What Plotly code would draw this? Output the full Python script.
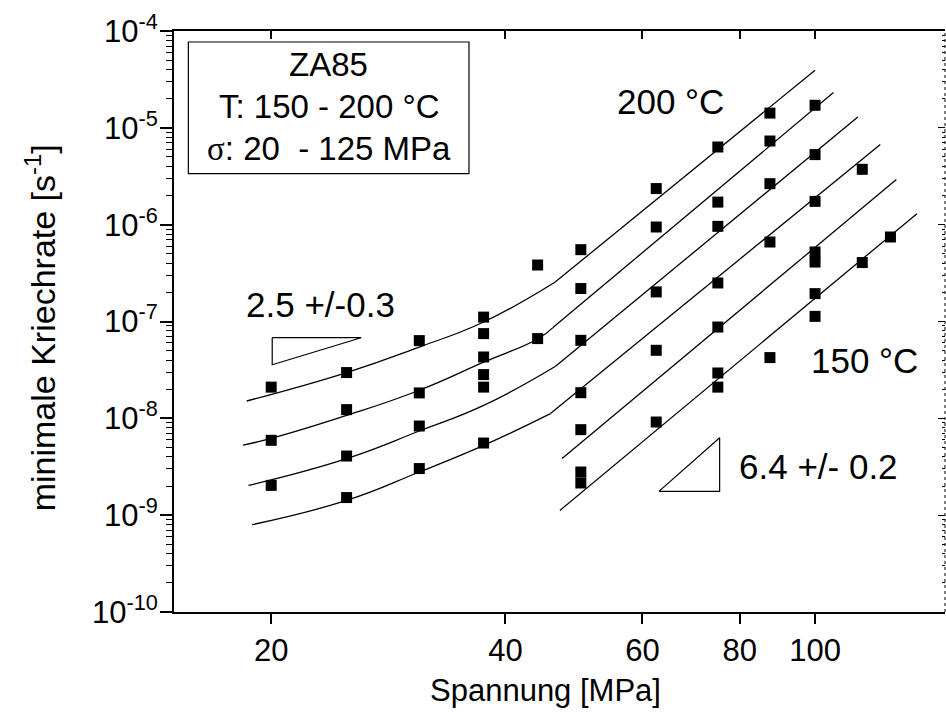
import numpy as np
import plotly.graph_objects as go

# Minimum creep rates (1/s) measured at each applied stress (MPa)
stress_levels = [20, 25, 31, 37.5, 44, 50, 62.5, 75, 87.5, 100, 115, 125]
creep_rates = [
    [2.10e-8, 5.93e-9, 2.03e-9],
    [2.97e-8, 1.23e-8, 4.08e-9, 1.52e-9],
    [6.35e-8, 1.83e-8, 8.33e-9, 3.03e-9],
    [1.11e-7, 7.50e-8, 4.30e-8, 2.83e-8, 2.10e-8, 5.56e-9],
    [3.83e-7, 6.66e-8],
    [5.52e-7, 2.19e-7, 6.39e-8, 1.84e-8, 7.64e-9, 2.79e-9, 2.15e-9],
    [2.36e-6, 9.46e-7, 2.02e-7, 5.04e-8, 9.16e-9],
    [6.34e-6, 1.71e-6, 9.61e-7, 2.50e-7, 8.77e-8, 2.94e-8, 2.10e-8],
    [1.42e-5, 7.31e-6, 2.65e-6, 6.62e-7, 4.24e-8],
    [1.71e-5, 5.29e-6, 1.74e-6, 5.22e-7, 4.11e-7, 1.94e-7, 1.13e-7],
    [3.73e-6, 4.06e-7],
    [7.46e-7],
]

# Fitted curves, low-stress branch (stress, rate)
fit_low_stress = [
    [18.6, 25, 31, 37.5, 46.3],
    [18.4, 20, 25, 31, 37.5, 44, 46.0],
    [18.7, 25, 31, 37.5, 46.4],
    [18.9, 25, 31, 37.5, 45.7],
]
fit_low_rate = [
    [1.51e-8, 2.97e-8, 5.45e-8, 9.88e-8, 2.54e-7],
    [5.30e-9, 6.20e-9, 1.07e-8, 1.95e-8, 3.80e-8, 6.60e-8, 8.60e-8],
    [2.03e-9, 3.84e-9, 7.40e-9, 1.36e-8, 3.45e-8],
    [7.98e-10, 1.42e-9, 2.79e-9, 5.26e-9, 1.12e-8],
]

# Fitted power-law branch (n = 6.4 +/- 0.2), start and end of each line
fit_high_stress = [
    [46.3, 100.0],
    [46.0, 105.6],
    [46.4, 113.5],
    [45.7, 121.3],
    [47.3, 127.2],
    [47.0, 135.2],
]
fit_high_rate = [
    [2.54e-7, 3.93e-5],
    [8.60e-8, 2.31e-5],
    [3.45e-8, 1.29e-5],
    [1.12e-8, 6.71e-6],
    [3.84e-9, 2.92e-6],
    [1.12e-9, 1.30e-6],
]

# Slope triangles
tri_low_stress = [20.06, 26.1, 20.06, 20.06]
tri_low_rate = [6.8e-8, 6.8e-8, 3.58e-8, 6.8e-8]
tri_high_stress = [63.0, 75.4, 75.4, 63.0]
tri_high_rate = [1.76e-9, 1.76e-9, 6.3e-9, 1.76e-9]

x_ticks = [20, 40, 60, 80, 100]
y_exponents = [-10, -9, -8, -7, -6, -5, -4]

FONT = "Liberation Sans, Arial, sans-serif"
SERIF = "Liberation Serif, Times New Roman, serif"
INK = "black"

fig = go.Figure()

# Fit lines
for xs, ys in zip(fit_low_stress, fit_low_rate):
    fig.add_trace(go.Scatter(x=xs, y=ys, mode="lines",
                             line=dict(color=INK, width=1.3, shape="spline", smoothing=1.3),
                             hoverinfo="skip", showlegend=False))
for xs, ys in zip(fit_high_stress, fit_high_rate):
    fig.add_trace(go.Scatter(x=xs, y=ys, mode="lines",
                             line=dict(color=INK, width=1.3),
                             hoverinfo="skip", showlegend=False))

# Data points
pts_x = [s for s, rates in zip(stress_levels, creep_rates) for _ in rates]
pts_y = [r for rates in creep_rates for r in rates]
fig.add_trace(go.Scatter(x=pts_x, y=pts_y, mode="markers",
                         marker=dict(symbol="square", size=11, color=INK, line=dict(width=0)),
                         showlegend=False))

# Slope triangles (also anchor the mirrored top/right axes)
fig.add_trace(go.Scatter(x=tri_low_stress, y=tri_low_rate, mode="lines",
                         line=dict(color=INK, width=1.2), xaxis="x2", yaxis="y",
                         hoverinfo="skip", showlegend=False))
fig.add_trace(go.Scatter(x=tri_high_stress, y=tri_high_rate, mode="lines",
                         line=dict(color=INK, width=1.2), xaxis="x", yaxis="y2",
                         hoverinfo="skip", showlegend=False))

x_range = [np.log10(15), np.log10(146.9)]
y_range = [-10, -4]
y_vals = [10.0 ** e for e in y_exponents]
y_text = ["10<sup>%d</sup>" % e for e in y_exponents]
y_minor = [m * 10.0 ** e for e in y_exponents[:-1] for m in range(2, 10)]

tickfont = dict(family=FONT, size=31, color=INK)

fig.update_layout(
    width=946, height=722,
    margin=dict(l=174, r=1, t=31, b=110),
    paper_bgcolor="white", plot_bgcolor="white",
    font=dict(family=FONT, color=INK),
    xaxis=dict(type="log", range=x_range, tickmode="array", tickvals=x_ticks,
               ticktext=[str(v) for v in x_ticks], ticks="outside", ticklen=10,
               tickwidth=1.5, tickcolor=INK, showline=True, linewidth=2, linecolor=INK,
               showgrid=False, zeroline=False, tickfont=tickfont),
    xaxis2=dict(type="log", range=x_range, overlaying="x", side="top", anchor="y",
                tickmode="array", tickvals=x_ticks, ticks="inside", ticklen=8,
                tickwidth=1.5, tickcolor=INK, showticklabels=False, showline=True,
                linewidth=2, linecolor=INK, showgrid=False, zeroline=False),
    yaxis=dict(type="log", range=y_range, tickmode="array", tickvals=y_vals,
               ticktext=y_text, ticks="outside", ticklen=12, tickwidth=1.5,
               tickcolor=INK, showline=True, linewidth=2, linecolor=INK,
               showgrid=False, zeroline=False, tickfont=tickfont,
               ticklabelstandoff=-4,
               minor=dict(tickmode="array", tickvals=y_minor, ticks="outside",
                          ticklen=6, tickwidth=1, tickcolor=INK, showgrid=False)),
    yaxis2=dict(type="log", range=y_range, overlaying="y", side="right", anchor="x",
                tickmode="array", tickvals=y_vals, ticks="inside", ticklen=7,
                tickwidth=1.2, tickcolor=INK, showticklabels=False, showline=False,
                showgrid=False, zeroline=False,
                minor=dict(tickmode="array", tickvals=y_minor, ticks="inside",
                           ticklen=3, tickwidth=1, tickcolor=INK, showgrid=False)),
)

# Info box and right frame edge
fig.add_shape(type="rect", xref="paper", yref="paper",
              x0=0.0186, x1=0.3826, y0=0.7546, y1=0.9811,
              line=dict(color=INK, width=1.2), fillcolor="rgba(0,0,0,0)")
fig.add_shape(type="line", xref="paper", yref="paper", x0=1, x1=1, y0=0, y1=1,
              line=dict(color=INK, width=1, dash="dot"))

def note(text, x, y, size, **kw):
    fig.add_annotation(text=text, x=x, y=y, xref="paper", yref="paper",
                       showarrow=False, xanchor="center", yanchor="middle",
                       font=dict(family=FONT, size=size, color=INK), **kw)

note("ZA85", 0.2006, 0.9427, 33)
note("T: 150 - 200 °C", 0.2006, 0.8692, 33)
note('<span style="font-family:%s">σ</span>: 20\u00a0 - 125 MPa' % SERIF,
     0.2006, 0.7976, 33)
note("200 °C", 0.6446, 0.879, 35)
note("150 °C", 0.8962, 0.4332, 35)
note("6.4 +/- 0.2", 0.8359, 0.2496, 35)
note("2.5 +/-0.3", 0.1894, 0.5296, 35)
note("Spannung [MPa]", 0.4812, -0.1348, 31)
note("minimale Kriechrate [s<sup>-1</sup>]", -0.1738, 0.4883, 34, textangle=-90)

fig.write_html("out.html")
